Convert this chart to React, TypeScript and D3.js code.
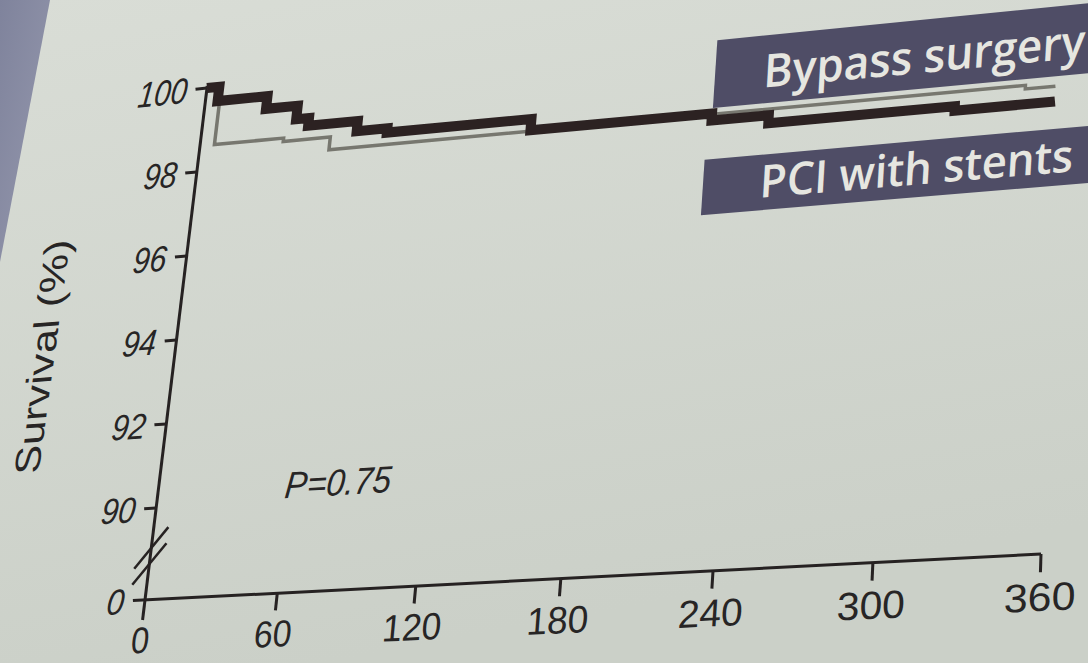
import React from 'react';
import * as d3 from 'd3';

// Kaplan–Meier steps: day of event, survival (%) after it
const pciDays = [0, 6, 30, 45, 51, 74, 88, 152, 228, 251, 323, 360];
const pciSurvival = [100, 99.66, 99.36, 99.04, 98.86, 98.62, 98.52, 98.26, 98.1, 97.92, 97.82, 97.82];
const cabgDays = [0, 7, 40, 62, 349, 360];
const cabgSurvival = [100, 98.62, 98.54, 98.24, 98.16, 98.16];

const xTicks = [0, 60, 120, 180, 240, 300, 360];
const yTicks = [90, 92, 94, 96, 98, 100];
const legendLabels = ['Bypass surgery', 'PCI with stents'];
const pLabel = 'P=0.75';
const yTitle = 'Survival (%)';

const W = 1088;
const H = 663;
// plot plane size in its own (unprojected) units
const FW = 896;
const FH = 512;

// the plot plane is seen at an angle: its four corners on screen
const A = [145, 600]; // day 0, 0 %
const B = [1041, 554]; // day 360, 0 %
const D = [207, 88]; // day 0, 100 %
const C = [1058, 3]; // day 360, 100 %
const LAMBDA = 0.866; // foreshortening along the time axis

function warp(X: number, Y: number): [number, number] {
  const s = X / FW;
  const t = 1 - Y / FH;
  const f = (s * LAMBDA) / (1 - s + s * LAMBDA);
  const bx = A[0] + f * (B[0] - A[0]);
  const by = A[1] + f * (B[1] - A[1]);
  const tx = D[0] + f * (C[0] - D[0]);
  const ty = D[1] + f * (C[1] - D[1]);
  return [bx + t * (tx - bx), by + t * (ty - by)];
}

// local affine frame of the warp, used to lay text onto the plane
function frame(X: number, Y: number): string {
  const e = 0.5;
  const p = warp(X, Y);
  const px = warp(X + e, Y);
  const py = warp(X, Y + e);
  const a = (px[0] - p[0]) / e;
  const b = (px[1] - p[1]) / e;
  const c = (py[0] - p[0]) / e;
  const d = (py[1] - p[1]) / e;
  return `matrix(${a} ${b} ${c} ${d} ${p[0]} ${p[1]})`;
}

const x = d3.scaleLinear().domain([0, 360]).range([0, FW]);
const y = d3.scaleLinear().domain([90, 100]).range([420, 0]);
const ZERO_Y = FH;

const lineGen = d3.line<[number, number]>();
const path = (pts: [number, number][]) => lineGen(pts.map(([X, Y]) => warp(X, Y))) || '';

function stepPoints(days: number[], vals: number[]): [number, number][] {
  const pts: [number, number][] = [];
  days.forEach((d, i) => {
    if (i > 0) pts.push([x(d), y(vals[i - 1])]);
    pts.push([x(d), y(vals[i])]);
  });
  return pts;
}

function quad(x0: number, y0: number, x1: number, y1: number): string {
  return path([
    [x0, y0],
    [x1, y0],
    [x1, y1],
    [x0, y1],
    [x0, y0],
  ]) + 'Z';
}

type LabelProps = {
  X: number;
  Y: number;
  size: number;
  anchor?: 'start' | 'middle' | 'end';
  italic?: boolean;
  weight?: number;
  fill?: string;
  rotate?: number;
  family?: string;
  dy?: string;
  children: React.ReactNode;
};

function Label({ X, Y, size, anchor = 'middle', italic = false, weight = 400, fill = '#272525', rotate = 0, family = '"Liberation Sans", Arial, sans-serif', dy, children }: LabelProps) {
  return (
    <g transform={frame(X, Y)}>
      <text
        transform={rotate ? `rotate(${rotate})` : undefined}
        fontSize={size}
        fontFamily={family}
        fontStyle={italic ? 'italic' : 'normal'}
        fontWeight={weight}
        textAnchor={anchor}
        dy={dy}
        fill={fill}
      >
        {children}
      </text>
    </g>
  );
}

export default function App() {
  const ink = '#262222';
  const axisW = 3;
  const tickLen = 14;

  return (
    <div style={{ position: 'absolute', left: 0, top: 0, width: W, height: H, overflow: 'hidden' }}>
      <svg width={W} height={H} style={{ display: 'block' }}>
        <defs>
          <linearGradient id="paper" x1="0" y1="0" x2="0.3" y2="1">
            <stop offset="0" stopColor="#d9ddd6" />
            <stop offset="1" stopColor="#cbd0c8" />
          </linearGradient>
          <linearGradient id="edge" x1="0" y1="0" x2="1" y2="1">
            <stop offset="0" stopColor="#7f839c" />
            <stop offset="1" stopColor="#9699ae" />
          </linearGradient>
        </defs>
        <rect width={W} height={H} fill="url(#paper)" />
        <polygon points="0,0 50,0 0,262" fill="url(#edge)" />

        {/* legend banners */}
        <path d={quad(568, 3, 1000, 68)} fill="#4f4d66" />
        <path d={quad(563, 117, 1000, 170)} fill="#4f4d66" />
        <Label X={617} Y={53} size={44} anchor="start" weight={600} fill="#e6e6e0" family='"Open Sans", sans-serif'>
          {legendLabels[0]}
        </Label>
        <Label X={620} Y={158} size={43} anchor="start" weight={600} fill="#e6e6e0" family='"Open Sans", sans-serif'>
          {legendLabels[1]}
        </Label>

        {/* axes */}
        <path d={path([[0, -2], [0, ZERO_Y + 20]])} stroke={ink} strokeWidth={axisW} fill="none" />
        <path d={path([[-tickLen, ZERO_Y], [FW, ZERO_Y]])} stroke={ink} strokeWidth={axisW} fill="none" />
        {yTicks.map((v) => (
          <path key={`yt${v}`} d={path([[-tickLen, y(v)], [0, y(v)]])} stroke={ink} strokeWidth={axisW} fill="none" />
        ))}
        {xTicks.slice(1).map((d) => (
          <path key={`xt${d}`} d={path([[x(d), ZERO_Y], [x(d), ZERO_Y + 17]])} stroke={ink} strokeWidth={axisW} fill="none" />
        ))}
        {/* axis break */}
        {[460, 476].map((b) => (
          <path key={`br${b}`} d={path([[-17, b + 20], [17, b - 20]])} stroke={ink} strokeWidth={2.5} fill="none" />
        ))}

        {/* tick labels */}
        {yTicks.map((v) => (
          <Label key={`yl${v}`} X={-24} Y={y(v)} size={36} anchor="end" italic dy="0.36em">
            {v}
          </Label>
        ))}
        <Label X={-24} Y={ZERO_Y} size={36} anchor="end" italic dy="0.36em">
          0
        </Label>
        {xTicks.map((d) => (
          <Label key={`xl${d}`} X={x(d)} Y={ZERO_Y + 53} size={37}>
            {d}
          </Label>
        ))}

        <Label X={-162} Y={259} size={44} rotate={-90} dy="0.35em">
          {yTitle}
        </Label>
        <Label X={x(60) - 4} Y={y(90) - 2} size={37} anchor="start" italic>
          {pLabel}
        </Label>

        {/* survival curves */}
        <path d={path(stepPoints(cabgDays, cabgSurvival))} stroke="#77776f" strokeWidth={3.5} fill="none" />
        <path d={path(stepPoints(pciDays, pciSurvival))} stroke="#2c2222" strokeWidth={10} fill="none" strokeLinejoin="miter" />
      </svg>
    </div>
  );
}
